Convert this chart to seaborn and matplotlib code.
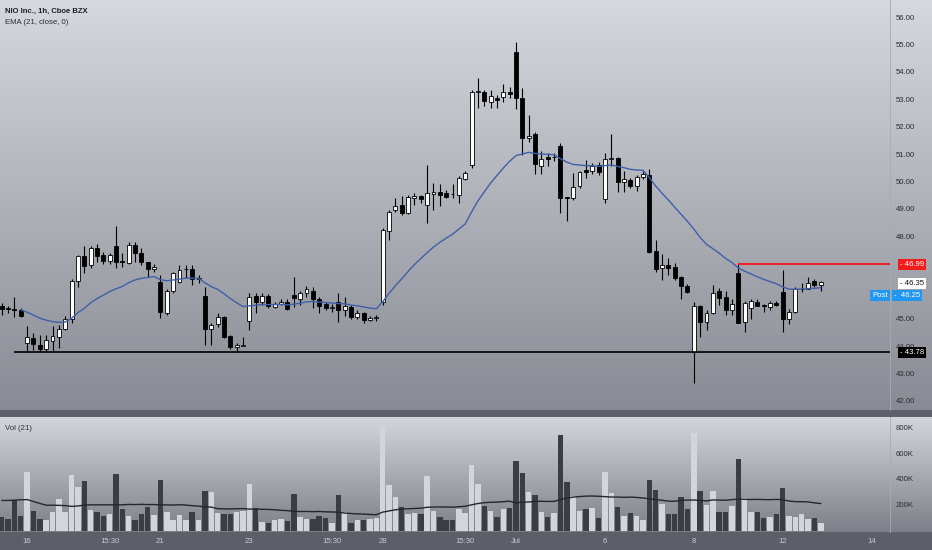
import numpy as np
import pandas as pd
import matplotlib
matplotlib.use("Agg")
import matplotlib.pyplot as plt
import matplotlib.transforms as mtransforms
import seaborn as sns

# NIO 1h candles (Jun 15 12:30 -> Jul 12 15:30)
opens = [45.46, 45.37, 45.32, 45.32, 44.13, 44.30, 44.04, 43.90, 44.20, 44.32,
         44.62, 44.99, 46.38, 47.29, 46.96, 47.58, 47.32, 47.10, 47.65, 47.10,
         47.03, 47.69, 47.40, 47.07, 46.80, 46.34, 45.21, 46.00, 46.34, 46.80,
         46.82, 46.45, 45.83, 44.63, 44.80, 45.06, 44.37, 43.96, 44.02, 44.93,
         45.82, 45.60, 45.83, 45.44, 45.55, 45.60, 45.85, 45.72, 45.95, 46.02,
         45.72, 45.53, 45.40, 45.62, 45.32, 45.44, 45.05, 45.20, 44.96, 45.04,
         45.62, 48.20, 48.96, 49.14, 48.87, 49.40, 49.46, 49.15, 49.55, 49.63,
         49.60, 49.54, 49.51, 50.10, 50.60, 53.25, 53.28, 52.90, 53.06, 53.07,
         53.28, 54.73, 53.05, 51.58, 51.72, 50.55, 50.90, 50.88, 51.30, 49.43,
         49.39, 49.85, 50.42, 50.40, 50.60, 49.35, 50.82, 50.85, 49.97, 50.05,
         49.85, 50.15, 50.24, 47.48, 46.86, 46.96, 46.88, 46.51, 46.19, 43.80,
         45.46, 44.89, 45.22, 46.02, 45.78, 45.32, 46.68, 44.89, 45.38, 45.62,
         45.48, 45.41, 45.58, 45.99, 44.98, 45.26, 46.07, 46.10, 46.36, 46.22]
highs = [45.57, 45.46, 45.80, 45.39, 44.73, 44.46, 44.40, 44.40, 44.73, 44.77,
         45.10, 46.45, 47.32, 47.65, 47.65, 47.72, 47.43, 47.40, 48.38, 47.40,
         47.80, 47.80, 47.58, 47.07, 47.00, 46.60, 46.10, 46.72, 46.96, 46.96,
         46.96, 46.60, 46.16, 44.85, 45.20, 45.10, 44.40, 44.12, 44.33, 45.94,
         45.94, 45.94, 45.90, 45.60, 45.70, 45.70, 46.52, 46.00, 46.20, 46.16,
         45.80, 45.60, 45.53, 45.94, 45.80, 45.50, 45.30, 45.25, 45.10, 45.15,
         48.30, 48.96, 49.40, 49.47, 49.50, 49.60, 49.50, 50.60, 49.95, 49.90,
         49.70, 49.90, 50.20, 50.40, 53.35, 53.77, 53.35, 53.33, 53.15, 53.55,
         53.45, 55.10, 53.40, 52.43, 51.82, 51.10, 51.05, 51.05, 51.40, 49.45,
         50.31, 50.40, 50.79, 50.66, 50.70, 51.03, 51.73, 50.88, 50.40, 50.12,
         50.25, 50.40, 50.45, 47.87, 47.36, 47.20, 47.03, 46.55, 46.25, 45.62,
         45.50, 45.30, 46.23, 46.12, 46.00, 45.70, 46.99, 45.66, 45.70, 45.70,
         45.55, 45.66, 45.66, 46.78, 45.36, 46.16, 46.29, 46.51, 46.45, 46.38]
lows = [45.13, 45.20, 45.07, 45.05, 43.79, 43.86, 43.82, 43.83, 43.83, 43.94,
        44.60, 44.85, 46.16, 46.67, 46.85, 47.07, 47.00, 46.98, 46.85, 46.90,
        46.99, 47.07, 46.96, 46.52, 46.70, 45.03, 45.13, 45.95, 46.30, 46.50,
        46.22, 46.30, 44.04, 44.04, 44.70, 44.30, 43.90, 43.78, 44.00, 44.60,
        45.21, 45.50, 45.40, 45.40, 45.50, 45.30, 45.43, 45.50, 45.80, 45.38,
        45.20, 45.30, 45.25, 44.89, 45.10, 45.00, 44.98, 44.85, 44.92, 44.93,
        45.50, 47.87, 48.90, 48.78, 48.80, 49.15, 49.20, 48.50, 48.96, 49.10,
        49.40, 49.40, 49.23, 50.05, 50.50, 52.70, 52.75, 52.70, 52.70, 52.90,
        53.05, 52.63, 50.97, 51.45, 50.28, 50.28, 50.55, 50.75, 48.87, 48.55,
        49.33, 49.75, 50.12, 50.26, 50.25, 49.20, 50.55, 49.63, 49.63, 49.75,
        49.67, 50.10, 47.41, 46.72, 46.41, 46.60, 46.42, 45.70, 45.93, 42.65,
        44.32, 44.60, 45.17, 45.50, 45.15, 45.15, 44.83, 44.53, 45.00, 45.45,
        45.23, 45.30, 45.45, 44.53, 44.80, 45.20, 45.99, 46.10, 46.16, 46.02]
closes = [45.35, 45.35, 45.31, 45.10, 44.35, 44.08, 43.89, 44.22, 44.36, 44.62,
          44.99, 46.38, 47.29, 46.92, 47.58, 47.29, 47.10, 47.32, 47.07, 47.05,
          47.69, 47.40, 47.07, 46.81, 46.89, 45.25, 46.01, 46.67, 46.78, 46.82,
          46.45, 46.50, 44.63, 44.77, 45.06, 44.33, 43.97, 44.04, 44.04, 45.80,
          45.62, 45.84, 45.46, 45.53, 45.60, 45.35, 45.75, 45.94, 46.08, 45.72,
          45.46, 45.40, 45.41, 45.32, 45.46, 45.05, 45.22, 44.96, 45.03, 45.05,
          48.23, 48.90, 49.10, 48.87, 49.45, 49.47, 49.36, 49.60, 49.63, 49.51,
          49.45, 49.53, 50.12, 50.33, 53.28, 53.31, 52.95, 53.12, 52.98, 53.26,
          53.18, 53.03, 51.58, 51.66, 50.64, 50.81, 50.81, 50.89, 49.41, 49.40,
          49.81, 50.36, 50.35, 50.58, 50.34, 50.81, 50.86, 49.99, 50.08, 49.85,
          50.18, 50.28, 47.44, 46.80, 46.96, 46.84, 46.47, 46.19, 45.99, 45.47,
          44.89, 45.22, 45.95, 45.74, 45.32, 45.54, 44.86, 45.58, 45.64, 45.47,
          45.47, 45.56, 45.50, 44.98, 45.26, 46.07, 46.10, 46.29, 46.21, 46.35]
volume_k = [103, 88, 233, 109, 450, 152, 90, 78, 142, 243,
            147, 429, 339, 382, 160, 147, 109, 127, 439, 168,
            114, 78, 129, 186, 121, 390, 147, 78, 121, 83,
            147, 78, 307, 297, 132, 129, 129, 142, 152, 362,
            173, 67, 62, 78, 90, 72, 284, 106, 90, 90,
            109, 96, 57, 274, 145, 57, 83, 83, 90, 96,
            793, 354, 261, 183, 127, 132, 127, 424, 152, 103,
            80, 83, 165, 134, 509, 359, 189, 152, 106, 165,
            173, 540, 444, 300, 274, 147, 103, 132, 742, 375,
            269, 155, 168, 176, 96, 452, 292, 183, 114, 137,
            111, 83, 393, 315, 209, 127, 127, 258, 168, 755,
            307, 199, 307, 145, 145, 189, 556, 251, 147, 142,
            96, 103, 127, 328, 114, 101, 129, 90, 98, 59]
# Vol MA(21) for the first 20 bars needs history before the chart
vol_ma_head_k = [233, 233, 235, 238, 240, 225, 210, 196, 196, 195,
                 193, 187, 190, 197, 199, 199, 199, 199, 199, 199]

tick_pos = [4, 17, 25, 39, 52, 60, 73, 81, 95, 109, 123, 137]
tick_labels = ["16", "15:30", "21", "23", "15:30", "28", "15:30", "Jul", "6", "8", "12", "14"]
# 46.00 and 47.00 sit under the price markers on the original scale
price_ticks = [42, 43, 44, 45, 48, 49, 50, 51, 52, 53, 54, 55, 56]
vol_ticks_k = [200, 400, 600, 800]

resistance = 46.99
resistance_start = 116
support = 43.78
support_start = 2
last_price = 46.35
post_price = 46.25

df = pd.DataFrame({"o": opens, "h": highs, "l": lows, "c": closes,
                   "vol": np.array(volume_k) * 1000.0})
df["idx"] = np.arange(len(df))
df["up"] = np.where(df["c"] >= df["o"], "up", "down")
df["ema"] = df["c"].ewm(span=21, adjust=False).mean()
vol_ma = df["vol"].rolling(21).mean()
vol_ma.iloc[:20] = np.array(vol_ma_head_k) * 1000.0
df["vol_ma"] = vol_ma

sns.set_style("white")
plt.rcParams["font.family"] = ["Liberation Sans", "DejaVu Sans"]

W, H = 932, 550
fig = plt.figure(figsize=(W / 100, H / 100), dpi=100)

# background gradient, per pixel row
def ramp(c1, c2, n):
    t = np.linspace(0, 1, n)[:, None]
    return np.array(c1)[None, :] * (1 - t) + np.array(c2)[None, :] * t

rows = np.vstack([
    ramp((214, 216, 223), (137, 139, 148), 410),
    ramp((94, 96, 106), (94, 96, 106), 7),
    ramp((212, 214, 220), (126, 128, 137), 115),
    ramp((92, 94, 104), (92, 94, 104), 18),
]) / 255.0
bg = fig.add_axes([0, 0, 1, 1], zorder=0)
bg.imshow(rows[:, None, :], aspect="auto", extent=[0, 1, 0, 1])
bg.axis("off")

ax = fig.add_axes([0, 140 / H, 890 / W, 410 / H], zorder=1)
axv = fig.add_axes([0, 18 / H, 890 / W, 115 / H], zorder=1)
for a in (ax, axv):
    a.set_facecolor("none")
    for s in ("top", "left", "bottom"):
        a.spines[s].set_visible(False)
    a.spines["right"].set_color("#a9abb2")
    a.spines["right"].set_linewidth(0.6)

# candles
up = df["c"] >= df["o"]
body_lo = np.minimum(df["o"], df["c"])
body_h = np.maximum((df["c"] - df["o"]).abs(), 0.025)
ax.vlines(df["idx"], df["l"], df["h"], color="black", lw=0.8, zorder=2)
ax.bar(df["idx"], body_h, bottom=body_lo, width=0.62,
       color=np.where(up, "white", "black"), edgecolor="black", lw=0.6, zorder=3)

sns.lineplot(x=df["idx"][3:], y=df["ema"][3:], ax=ax, color="#3f5fa8", lw=1.0, zorder=4)

xmax = 139.9
ax.hlines(resistance, resistance_start, xmax, color="#f22020", lw=1.4, zorder=5)
ax.hlines(support, support_start, xmax, color="black", lw=1.2, zorder=5)

ax.set_xlim(-0.27, xmax)
ax.set_ylim(41.67, 56.62)
ax.set_xticks([])
ax.set_xlabel("")
ax.set_ylabel("")
ax.yaxis.tick_right()
ax.set_yticks(price_ticks)
ax.set_yticklabels([f"{v:.2f}" for v in price_ticks])
ax.tick_params(axis="y", length=0, pad=4, labelsize=5.6, labelcolor="#2b2c31")

# price scale markers
trans = mtransforms.blended_transform_factory(fig.transFigure, ax.transData)
def marker(x_px, y, s, fc, tc, dy=0):
    t = mtransforms.offset_copy(trans, fig=fig, y=dy, units="dots")
    ax.text(x_px / W, y, s, transform=t, ha="left", va="center", fontsize=5.6,
            color=tc, clip_on=False, zorder=10,
            bbox=dict(boxstyle="square,pad=0.25", fc=fc, ec="none"))

marker(900, resistance, "- 46.99", "#f21c1c", "white")
marker(900, last_price, "- 46.35", "white", "#111111", dy=-2)
# TradingView pushes the post-market label down so it does not cover the last price
marker(894, post_price, "-  46.25", "#2196f3", "white", dy=-11)
marker(872, post_price, "Post", "#2196f3", "white", dy=-11)
marker(900, support, "- 43.78", "black", "white")

# volume pane
pal = {"up": "#d4d5da", "down": "#3c3d44"}
sns.barplot(data=df, x="idx", y="vol", hue="up", palette=pal, native_scale=True,
            width=0.86, errorbar=None, legend=False, saturation=1, dodge=False,
            edgecolor="none", linewidth=0, ax=axv, zorder=2)
sns.lineplot(x=df["idx"], y=df["vol_ma"], ax=axv, color="#26272c", lw=1.0, zorder=4)
axv.set_xlim(-0.27, xmax)
axv.set_ylim(-11600, 880000)
axv.set_xlabel("")
axv.set_ylabel("")
axv.set_xticks(tick_pos)
axv.set_xticklabels(tick_labels)
axv.tick_params(axis="x", length=0, pad=4, labelsize=5.6, labelcolor="#c9cbd1")
axv.yaxis.tick_right()
axv.set_yticks([v * 1000 for v in vol_ticks_k])
axv.set_yticklabels([f"{v}K" for v in vol_ticks_k])
axv.tick_params(axis="y", length=0, pad=4, labelsize=5.6, labelcolor="#2b2c31")

fig.text(5 / W, 1 - 11 / H, "NIO Inc., 1h, Cboe BZX", fontsize=5.5, fontweight="bold",
         color="#1d1e22", va="center", ha="left")
fig.text(5 / W, 1 - 23 / H, "EMA (21, close, 0)", fontsize=5.6, color="#2b2c31",
         va="center", ha="left")
fig.text(5 / W, 1 - 429 / H, "Vol (21)", fontsize=5.6, color="#2b2c31",
         va="center", ha="left")

plt.savefig("out.png", dpi=100)
